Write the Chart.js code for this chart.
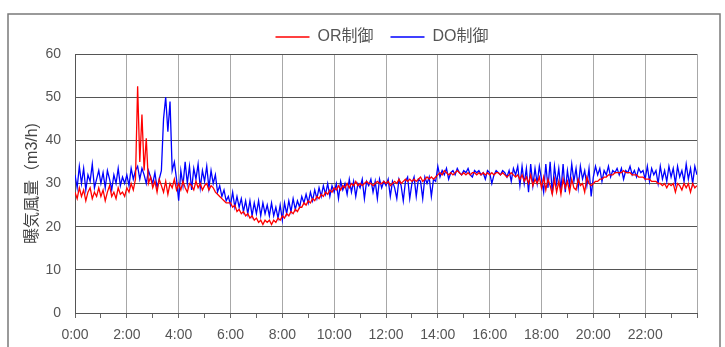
<!DOCTYPE html>
<html lang="ja">
<head>
<meta charset="UTF-8">
<title>曝気風量</title>
<script src="https://cdn.jsdelivr.net/npm/chart.js"></script>
<style>
  body { margin: 0; padding: 0; background: #fff; }
  canvas { display: block; }
</style>
</head>
<body>
<canvas id="myChart" width="725" height="347"></canvas>
<script>
// 5分ごとの値 (0:00 ～ 24:00)
const STEP_MIN = 5;

const orValues = [
  28, 26.5, 29, 27, 28.5, 26, 28, 29, 26.5, 28, 27, 29,             // 0時
  27, 28.5, 26, 28, 29.5, 27, 28, 26.5, 29, 27.5, 28, 27,           // 1時
  29, 28, 30, 28.5, 31, 52.5, 35, 46, 33, 40.5, 30, 31.5,           // 2時
  29, 30.5, 28, 31, 29.5, 28, 30.5, 27.5, 30, 29, 31, 28.5,         // 3時
  30, 28.5, 30.5, 29, 28, 30, 29.5, 28.5, 30.5, 29, 30, 28.5,       // 4時
  29.5, 30, 28.5, 29.5, 29, 28, 27.5, 27, 26.5, 26, 25.5, 25.5,     // 5時
  25.5, 24.5, 25, 23.5, 24, 23, 23.5, 22.5, 23, 22, 22.5, 21.5,     // 6時
  22, 21, 21.5, 20.5, 21.5, 21, 21.5, 20.5, 21.5, 21, 22, 21.5,     // 7時
  22.5, 22, 23, 22.5, 23.5, 23, 24, 23.5, 24.5, 24.5, 25.5, 25,     // 8時
  26, 25.5, 26.5, 26, 27, 26.5, 27.5, 27, 28, 27.5, 28.5, 28,       // 9時
  29, 28.5, 29.5, 28.5, 29.5, 29, 30, 29, 30, 29.5, 30.5, 29.5,     // 10時
  30, 29.5, 30, 30.5, 30, 30, 29.5, 30, 30.5, 30, 30, 30.5,         // 11時
  30, 30.5, 29.5, 30, 30.5, 30, 31, 30, 30.5, 31, 30.5, 31,         // 12時
  30.5, 31, 30.5, 31, 31.5, 30.5, 31, 31.5, 31, 31.5, 31, 31.5,     // 13時
  32, 32.5, 32, 33, 32.5, 32, 32.5, 32, 32.5, 33, 32.5, 32,         // 14時
  32.5, 32, 32.5, 32, 32.5, 32.5, 32, 32.5, 32, 32.5, 32, 32.5,     // 15時
  32, 32.5, 32, 32.5, 32.5, 32, 32.5, 32, 31.5, 32, 32.5, 32,       // 16時
  31.5, 32, 31, 32, 30.5, 31.5, 30, 32, 29.5, 31, 30, 31.5,         // 17時
  29, 31.5, 28.5, 31, 29.5, 27.5, 31, 28, 30.5, 27.5, 31, 29,       // 18時
  30.5, 28, 31, 29, 28.5, 31, 29.5, 30, 28, 31.5, 30, 29.5,         // 19時
  30, 30.5, 30.5, 31, 31, 31.5, 31.5, 32, 32, 32, 32.5, 32.5,       // 20時
  32.5, 32.5, 33, 32.5, 32.5, 32.5, 32, 32, 32, 31.5, 31.5, 31.5,   // 21時
  31, 31, 31, 30.5, 30.5, 30.5, 30, 30, 29.5, 30, 29, 30,           // 22時
  29.5, 30, 28, 30, 29.5, 28.5, 30, 29, 30, 28, 30, 29,             // 23時
  29.5
];

const doValues = [
  32, 29, 34, 30, 33.5, 28.5, 32, 30.5, 34.5, 29, 31, 33,           // 0時
  30, 32.5, 29, 33, 31, 28.5, 32, 30, 33.5, 29.5, 31.5, 30,         // 1時
  32, 29.5, 33.5, 31, 33, 34, 31, 33.5, 32, 30, 33, 31.5,           // 2時
  30, 32.5, 29, 31, 33, 45, 50, 42, 49, 33, 35, 31,                 // 3時
  26, 33, 29.5, 35, 30, 34, 28.5, 33.5, 31, 34.5, 29, 33,           // 4時
  30.5, 34, 29, 33, 30, 32, 28, 29.5, 27, 28.5, 26, 27,             // 5時
  25, 28, 24.5, 27, 24.5, 26.5, 23.5, 26, 23, 26, 22.5, 25.5,       // 6時
  23, 26, 22.5, 25.5, 23, 25, 22.5, 25.5, 22.5, 24.5, 22, 25,       // 7時
  21.5, 25.5, 23, 26, 23.5, 26.5, 24, 26, 24.5, 27, 25.5, 27.5,     // 8時
  25.5, 28, 26, 28.5, 26.5, 29, 27, 29.5, 27.5, 30, 27, 29.5,       // 9時
  28, 30, 26.5, 30.5, 28.5, 30, 27.5, 31, 28, 30.5, 27, 30,         // 10時
  29, 31, 26.5, 30.5, 29.5, 31, 28, 30.5, 26.5, 31, 29, 30.5,       // 11時
  29.5, 31, 27, 30.5, 29, 26.5, 31, 29.5, 26, 30.5, 31.5, 26.5,     // 12時
  30, 31.5, 27, 31, 30.5, 26.5, 31.5, 30, 31.5, 27, 31, 30.5,       // 13時
  34, 31.5, 33, 32, 33.5, 31, 32.5, 33, 32, 33.5, 32.5, 32,         // 14時
  33, 32.5, 33.5, 32, 31.5, 33, 32.5, 33, 32, 32.5, 31, 33,         // 15時
  32.5, 30, 32, 33, 32.5, 32, 33, 32.5, 31.5, 33, 30.5, 33.5,       // 16時
  32, 34, 29.5, 34, 30, 33.5, 28, 34.5, 29.5, 33.5, 30, 34,         // 17時
  31, 28, 34.5, 29, 35, 27.5, 34, 30, 33.5, 28.5, 34.5, 28,         // 18時
  33, 29.5, 34.5, 30.5, 33.5, 29, 34, 31, 33, 29.5, 33.5, 27,       // 19時
  31.5, 34, 32, 33.5, 30.5, 33, 32, 34, 31.5, 33, 32.5, 33.5,       // 20時
  32, 33.5, 31, 33, 32.5, 34, 32, 33, 31.5, 33.5, 32.5, 33,         // 21時
  31, 34, 30.5, 33.5, 32, 33, 30, 34, 31, 33, 30.5, 34,             // 22時
  31.5, 33.5, 30, 34, 31.5, 33, 30.5, 34.5, 31, 33.5, 30, 34,       // 23時
  32
];

const xTickLabels = ['0:00', '2:00', '4:00', '6:00', '8:00', '10:00',
                     '12:00', '14:00', '16:00', '18:00', '20:00', '22:00'];

const FONT = "'Liberation Sans', 'Noto Sans CJK JP', sans-serif";

function toPoints(values) {
    return values.map((v, i) => ({ x: i * STEP_MIN, y: v }));
}

// 外枠
const frame = {
    id: 'frame',
    beforeDraw: chart => {
        const ctx = chart.ctx;
        ctx.save();
        ctx.fillStyle = '#fff';
        ctx.fillRect(0, 0, chart.width, chart.height);
        ctx.strokeStyle = '#7a7a7a';
        ctx.lineWidth = 1.5;
        ctx.strokeRect(8, 14, 712, 345);
        ctx.restore();
    }
};

// 凡例を少し右・下へずらす
const legendShift = {
    id: 'legendShift',
    afterLayout: chart => {
        const lg = chart.legend;
        if (!lg) return;
        lg.left += 22;
        lg.right += 22;
        lg.top += 1;
        lg.bottom += 1;
    }
};

const ctx = document.getElementById('myChart').getContext('2d');
new Chart(ctx, {
    type: 'line',
    data: {
        datasets: [{
            label: 'OR制御',
            data: toPoints(orValues),
            borderColor: '#ff0000',
            backgroundColor: '#ff0000',
            borderWidth: 1.3,
            pointRadius: 0,
            tension: 0
        }, {
            label: 'DO制御',
            data: toPoints(doValues),
            borderColor: '#0000ff',
            backgroundColor: '#0000ff',
            borderWidth: 1.3,
            pointRadius: 0,
            tension: 0
        }]
    },
    options: {
        responsive: false,
        animation: false,
        layout: { padding: { left: 23, right: 28, top: 11, bottom: 0 } },
        plugins: {
            legend: {
                position: 'top',
                labels: {
                    usePointStyle: true,
                    pointStyle: 'line',
                    pointStyleWidth: 34,
                    boxHeight: 16,
                    padding: 17,
                    color: '#555',
                    font: { family: FONT, size: 16 }
                }
            },
            tooltip: { enabled: false }
        },
        scales: {
            x: {
                type: 'linear',
                min: 0,
                max: 1440,
                afterFit: scale => { scale.height = 34; },
                ticks: {
                    stepSize: 60,
                    autoSkip: false,
                    maxRotation: 0,
                    padding: 9,
                    color: '#555',
                    font: { family: FONT, size: 14 },
                    callback: v => (v % 120 === 0 && v < 1440) ? xTickLabels[v / 120] : ''
                },
                grid: {
                    color: c => (c.tick && c.tick.value % 120 === 0) ? '#a8a8a8' : 'rgba(0,0,0,0)',
                    tickColor: '#666',
                    tickLength: 5,
                    lineWidth: 1
                },
                border: { color: '#555', width: 1 }
            },
            y: {
                min: 0,
                max: 60,
                afterFit: scale => { scale.width = 52; },
                ticks: {
                    stepSize: 10,
                    padding: 14,
                    color: '#555',
                    font: { family: FONT, size: 14 }
                },
                grid: {
                    color: '#555',
                    drawTicks: false,
                    lineWidth: 1
                },
                border: { color: '#555', width: 1 },
                title: {
                    display: true,
                    text: '曝気風量（m3/h)',
                    color: '#444',
                    font: { family: FONT, size: 16 },
                    padding: { top: 0, bottom: 0 }
                }
            }
        }
    },
    plugins: [frame, legendShift]
});
</script>
</body>
</html>
